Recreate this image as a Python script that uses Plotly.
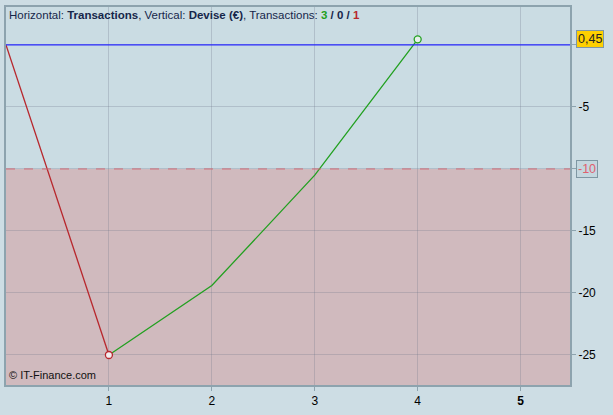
import plotly.graph_objs as go

# Equity curve by trade number
trade_idx = [0, 1, 2, 3, 4]
equity = [0, -25, -19.4, -10.5, 0.45]

x_ticks = [1, 2, 3, 4, 5]
x_labels = ['1', '2', '3', '4', '<b>5</b>']
y_ticks = [0, -5, -10, -15, -20, -25]
y_labels = ['', '-5', '', '-15', '-20', '-25']

loss_level = -10
last_label = '0,45'
n_win, n_even, n_loss = 3, 0, 1

font = dict(family='Arial, Liberation Sans, sans-serif', size=12, color='#000000')

fig = go.Figure()

# losing trade (red), then winning trades (green)
fig.add_trace(go.Scatter(
    x=trade_idx[:2], y=equity[:2], mode='lines',
    line=dict(color='#b8262c', width=1.3), hoverinfo='skip'))
fig.add_trace(go.Scatter(
    x=trade_idx[1:], y=equity[1:], mode='lines',
    line=dict(color='#22a020', width=1.3), hoverinfo='skip'))
fig.add_trace(go.Scatter(
    x=[trade_idx[1]], y=[equity[1]], mode='markers',
    marker=dict(symbol='circle', size=7, color='#f2eef0',
                line=dict(color='#b8262c', width=1.3))))
fig.add_trace(go.Scatter(
    x=[trade_idx[-1]], y=[equity[-1]], mode='markers',
    marker=dict(symbol='circle', size=7, color='#e6f0ea',
                line=dict(color='#22a020', width=1.3))))

# pink zone below the loss level
fig.add_shape(type='rect', xref='paper', yref='y', x0=0, x1=1,
              y0=-40, y1=loss_level, fillcolor='#d0babe', line_width=0, layer='below')
fig.add_shape(type='line', xref='paper', yref='y', x0=0, x1=1,
              y0=loss_level, y1=loss_level, line=dict(color='#d06a74', width=1, dash='dash'))
# zero line
fig.add_shape(type='line', xref='paper', yref='y', x0=0, x1=1,
              y0=0, y1=0, line=dict(color='#2a2aff', width=1.2))

fig.update_layout(
    width=613, height=415,
    margin=dict(l=4, r=43, t=7, b=30),
    paper_bgcolor='#cddde4',
    plot_bgcolor='#cadce3',
    showlegend=False,
    font=font,
    xaxis=dict(range=[0, 5.48], tickvals=x_ticks, ticktext=x_labels,
               showgrid=True, gridcolor='rgba(110,120,135,0.28)', gridwidth=1,
               zeroline=False, ticks='outside', ticklen=4, tickcolor='#8da3ae',
               showline=True, linecolor='#8da3ae', linewidth=2, mirror=True,
               tickfont=font),
    yaxis=dict(range=[-27.42, 3.06], side='right', tickvals=y_ticks, ticktext=y_labels,
               showgrid=True, gridcolor='rgba(110,120,135,0.28)', gridwidth=1,
               zeroline=False, ticks='outside', ticklen=4, tickcolor='#8da3ae',
               showline=True, linecolor='#8da3ae', linewidth=2, mirror=True,
               tickfont=font),
)

header = ("Horizontal: <b>Transactions</b>, Vertical: <b>Devise (€)</b>, Transactions: "
          f"<b><span style='color:#22a020'>{n_win}</span> / {n_even} / "
          f"<span style='color:#b8262c'>{n_loss}</span></b>")
fig.add_annotation(x=0.002, y=1.0, xref='paper', yref='paper', xanchor='left', yanchor='top',
                   text=header, showarrow=False, font=dict(family=font['family'], size=11.5, color='#16264a'))
fig.add_annotation(x=0.002, y=0.005, xref='paper', yref='paper', xanchor='left', yanchor='bottom',
                   text='© IT-Finance.com', showarrow=False, font=dict(family=font['family'], size=11, color='#111111'))

# boxed labels on the value axis
fig.add_annotation(x=1.01, y=equity[-1], xref='paper', yref='y', xanchor='left', yanchor='middle',
                   text=last_label, showarrow=False, bgcolor='#ffd000', bordercolor='#7f97a3',
                   borderwidth=1, borderpad=1, font=dict(family=font['family'], size=12.5, color='#222222'))
fig.add_annotation(x=1.01, y=loss_level, xref='paper', yref='y', xanchor='left', yanchor='middle',
                   text=str(loss_level), showarrow=False, bgcolor='#c4d7df', bordercolor='#7f97a3',
                   borderwidth=1, borderpad=1, font=dict(family=font['family'], size=12.5, color='#e0606e'))

fig.write_html("out.html", config={'displayModeBar': False})

# drop the default page margin so the figure fills the window
with open("out.html", encoding="utf-8") as f:
    html = f.read()
html = html.replace("<head>", "<head><style>body{margin:0;background:#cddde4;}</style>", 1)
with open("out.html", "w", encoding="utf-8") as f:
    f.write(html)
